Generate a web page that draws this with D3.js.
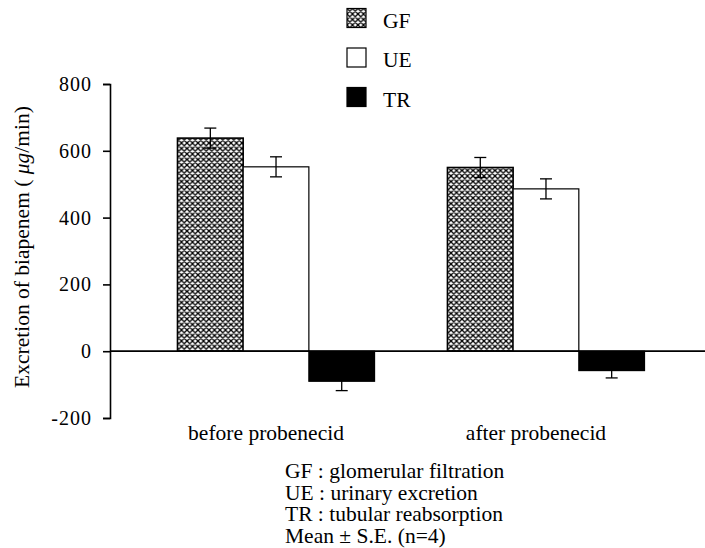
<!DOCTYPE html>
<html><head><meta charset="utf-8">
<script src="https://cdn.jsdelivr.net/npm/d3@7"></script>
<style>
html,body{margin:0;padding:0;background:#fff;}
svg{display:block;font-family:"Liberation Serif","Times New Roman",serif;}
svg text{font-family:"Liberation Serif","Times New Roman",serif !important;}
</style></head>
<body><svg id="c" width="705" height="548"></svg>
<script>
const categories = ["before probenecid", "after probenecid"];
const series = ["GF", "UE", "TR"];
const gfMean = [638, 550];
const ueMean = [552, 486];
const trMean = [-90, -58];
const gfSE = [30, 30];
const ueSE = [30, 30];
const trSE = [28, 22];
const yTicks = [-200, 0, 200, 400, 600, 800];
const notes = ["GF : glomerular filtration", "UE : urinary excretion", "TR : tubular reabsorption", "Mean \u00B1 S.E. (n=4)"];

const svg = d3.select("#c");
const defs = svg.append("defs");
const pat = defs.append("pattern").attr("id","hatch").attr("patternUnits","userSpaceOnUse")
  .attr("width",5.5).attr("height",5.5);
pat.append("rect").attr("width",5.5).attr("height",5.5).attr("fill","#fff");
pat.append("path").attr("d","M0,0L5.5,5.5M5.5,0L0,5.5M-1,4.5L1,6.5M4.5,-1L6.5,1M-1,1L1,-1M4.5,6.5L6.5,4.5")
  .attr("stroke","#000").attr("stroke-width",1.3);

const fills = {GF:"url(#hatch)", UE:"#fff", TR:"#000"};

const y = d3.scaleLinear().domain([-200, 800]).range([418, 84]);
const x = d3.scaleBand().domain(categories).range([110, 712]).paddingInner(0.27).paddingOuter(0.25);
const xs = d3.scaleBand().domain(series).range([0, x.bandwidth()]).padding(0);

const rows = [];
categories.forEach((c, i) => {
  rows.push({c, s:"GF", v:gfMean[i], e:gfSE[i]});
  rows.push({c, s:"UE", v:ueMean[i], e:ueSE[i]});
  rows.push({c, s:"TR", v:trMean[i], e:trSE[i]});
});

// y axis
const ax = svg.append("g").attr("transform","translate(110,0)")
  .call(d3.axisLeft(y).tickValues(yTicks).tickSizeOuter(0).tickSize(7).tickPadding(11).tickFormat(d => String(d)));
ax.attr("font-family", null);
ax.selectAll("path,line").attr("stroke","#000").attr("stroke-width",1.6);
ax.selectAll("text").attr("font-size",20).attr("letter-spacing","1px").attr("fill","#000");

// bars
svg.append("g").selectAll("rect").data(rows).join("rect")
  .attr("x", d => x(d.c) + xs(d.s))
  .attr("width", xs.bandwidth())
  .attr("y", d => y(Math.max(0, d.v)))
  .attr("height", d => Math.abs(y(d.v) - y(0)))
  .attr("fill", d => fills[d.s])
  .attr("stroke","#000").attr("stroke-width", d => d.s === "GF" ? 1.6 : 1.2);

// zero line
svg.append("line").attr("x1",110).attr("x2",705).attr("y1",y(0)).attr("y2",y(0))
  .attr("stroke","#000").attr("stroke-width",1.8);

// error bars
const eb = svg.append("g").attr("stroke","#000").attr("stroke-width",1.3);
rows.forEach(d => {
  const cx = x(d.c) + xs(d.s) + xs.bandwidth()/2;
  const y1 = y(d.v + d.e), y2 = y(d.v - d.e);
  eb.append("line").attr("x1",cx).attr("x2",cx).attr("y1",y1).attr("y2",y2);
  eb.append("line").attr("x1",cx-6).attr("x2",cx+6).attr("y1",y1).attr("y2",y1);
  eb.append("line").attr("x1",cx-6).attr("x2",cx+6).attr("y1",y2).attr("y2",y2);
});

// category labels
svg.append("g").selectAll("text").data(categories).join("text")
  .attr("x", d => x(d) + x.bandwidth()/2 - 10)
  .attr("y", 440).attr("text-anchor","middle").attr("font-size",21.5).text(d => d);

// y title
const yt = svg.append("text").attr("transform","translate(29,247) rotate(-90)")
  .attr("text-anchor","middle").attr("font-size",21.5);
yt.append("tspan").text("Excretion of biapenem ( ");
yt.append("tspan").attr("font-style","italic").text("\u03BCg");
yt.append("tspan").text("/min)");

// legend
const lg = svg.append("g").selectAll("g").data(series).join("g")
  .attr("transform", (d,i) => `translate(347,${8.5 + i*39.5})`);
lg.append("rect").attr("width",19).attr("height",19).attr("fill", d => fills[d])
  .attr("stroke","#000").attr("stroke-width",1.2);
lg.append("text").attr("x",36).attr("y",19).attr("font-size",21.5).text(d => d);

// notes
svg.append("g").selectAll("text").data(notes).join("text")
  .attr("x",285).attr("y",(d,i) => 478 + i*21.7).attr("font-size",21.5).text(d => d);
</script></body></html>
